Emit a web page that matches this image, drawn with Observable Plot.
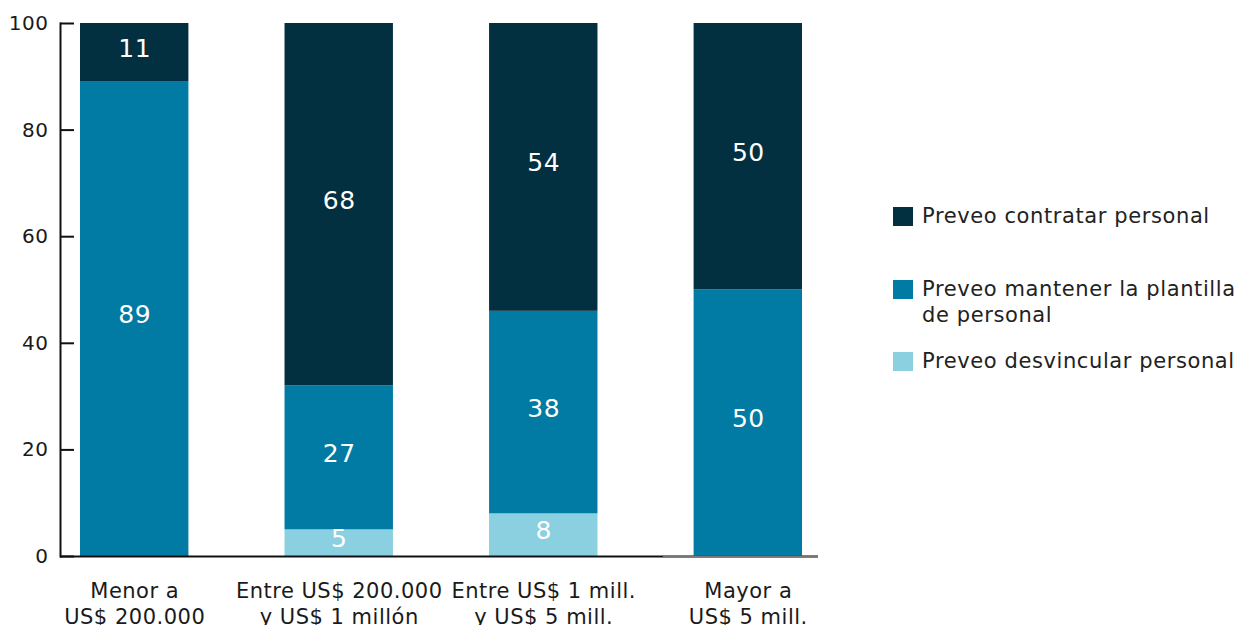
<!DOCTYPE html>
<html>
<head>
<meta charset="utf-8">
<script src="https://cdn.jsdelivr.net/npm/d3@7"></script>
<script src="https://cdn.jsdelivr.net/npm/@observablehq/plot@0.6"></script>
<style>
  body { margin: 0; background: #fff; font-family: "DejaVu Sans", sans-serif; }
  #wrap { position: relative; width: 1236px; height: 625px; overflow: hidden; }
  #chart { position: absolute; left: 0; top: 0; }
  .leg { position: absolute; left: 893px; display: flex; align-items: flex-start;
         font-size: 21px; line-height: 26px; color: #222; white-space: nowrap; letter-spacing: 0.6px; }
  .sw { width: 20px; height: 19px; margin-top: 4px; margin-right: 9px; flex: none; }
</style>
</head>
<body>
<div id="wrap">
  <div id="chart"></div>
  <div id="legend"></div>
</div>
<script>
// ---- data ----
const categories = [
  "Menor a\nUS$ 200.000",
  "Entre US$ 200.000\ny US$ 1 millón",
  "Entre US$ 1 mill.\ny US$ 5 mill.",
  "Mayor a\nUS$ 5 mill."
];
const seriesNames = [
  "Preveo desvincular personal",
  "Preveo mantener la plantilla de personal",
  "Preveo contratar personal"
];
const desvincular = [0, 5, 8, 0];
const mantener = [89, 27, 38, 50];
const contratar = [11, 68, 54, 50];
const colors = ["#8bd0e0", "#017ba3", "#023040"];
const yTicks = [0, 20, 40, 60, 80, 100];

// ---- build table ----
const seriesValues = [desvincular, mantener, contratar];
const rows = [];
categories.forEach((c, i) => {
  seriesNames.forEach((s, j) => {
    rows.push({category: c, series: s, value: seriesValues[j][i]});
  });
});

const W = 1236, H = 625;
const marginLeft = 60, marginRight = 418, marginTop = 23, marginBottom = 69;

const chart = Plot.plot({
  width: W,
  height: H,
  marginLeft, marginRight, marginTop, marginBottom,
  style: {fontFamily: "DejaVu Sans, sans-serif", color: "#1a1a1a", background: "#fff", letterSpacing: "0.5px"},
  x: {domain: categories, range: [80, 802], paddingInner: 0.47, paddingOuter: 0, round: false, label: null},
  y: {domain: [0, 100], label: null},
  color: {domain: seriesNames, range: colors},
  marks: [
    Plot.barY(rows, Plot.stackY({x: "category", y: "value", fill: "series", order: seriesNames})),
    Plot.text(rows.filter(d => d.value > 0), Plot.stackY({
      x: "category", y: "value", z: "series", order: seriesNames,
      text: d => String(d.value), fill: "white", fontSize: 25, dy: -4
    })),
    Plot.ruleY([0], {stroke: "#111", strokeWidth: 2}),
    Plot.ruleY([0], {stroke: "#777", strokeWidth: 2, insetLeft: 603}),
    Plot.frame({anchor: "left", stroke: "#111", strokeWidth: 2}),
    Plot.axisY({ticks: yTicks, tickSize: -14, tickPadding: 26, fontSize: 20, strokeWidth: 2, stroke: "#111"}),
    Plot.axisX({tickSize: 0, tickPadding: 24, fontSize: 21, lineHeight: 1.2})
  ]
});
document.getElementById("chart").appendChild(chart);

// ---- legend (HTML, right side) ----
const legendItems = [
  {name: seriesNames[2], color: colors[2], lines: ["Preveo contratar personal"], top: 203},
  {name: seriesNames[1], color: colors[1], lines: ["Preveo mantener la plantilla", "de personal"], top: 276},
  {name: seriesNames[0], color: colors[0], lines: ["Preveo desvincular personal"], top: 348}
];
const leg = document.getElementById("legend");
legendItems.forEach(it => {
  const d = document.createElement("div");
  d.className = "leg";
  d.style.top = it.top + "px";
  const sw = document.createElement("div");
  sw.className = "sw";
  sw.style.background = it.color;
  const t = document.createElement("div");
  t.innerHTML = it.lines.join("<br>");
  d.appendChild(sw);
  d.appendChild(t);
  leg.appendChild(d);
});
</script>
</body>
</html>
